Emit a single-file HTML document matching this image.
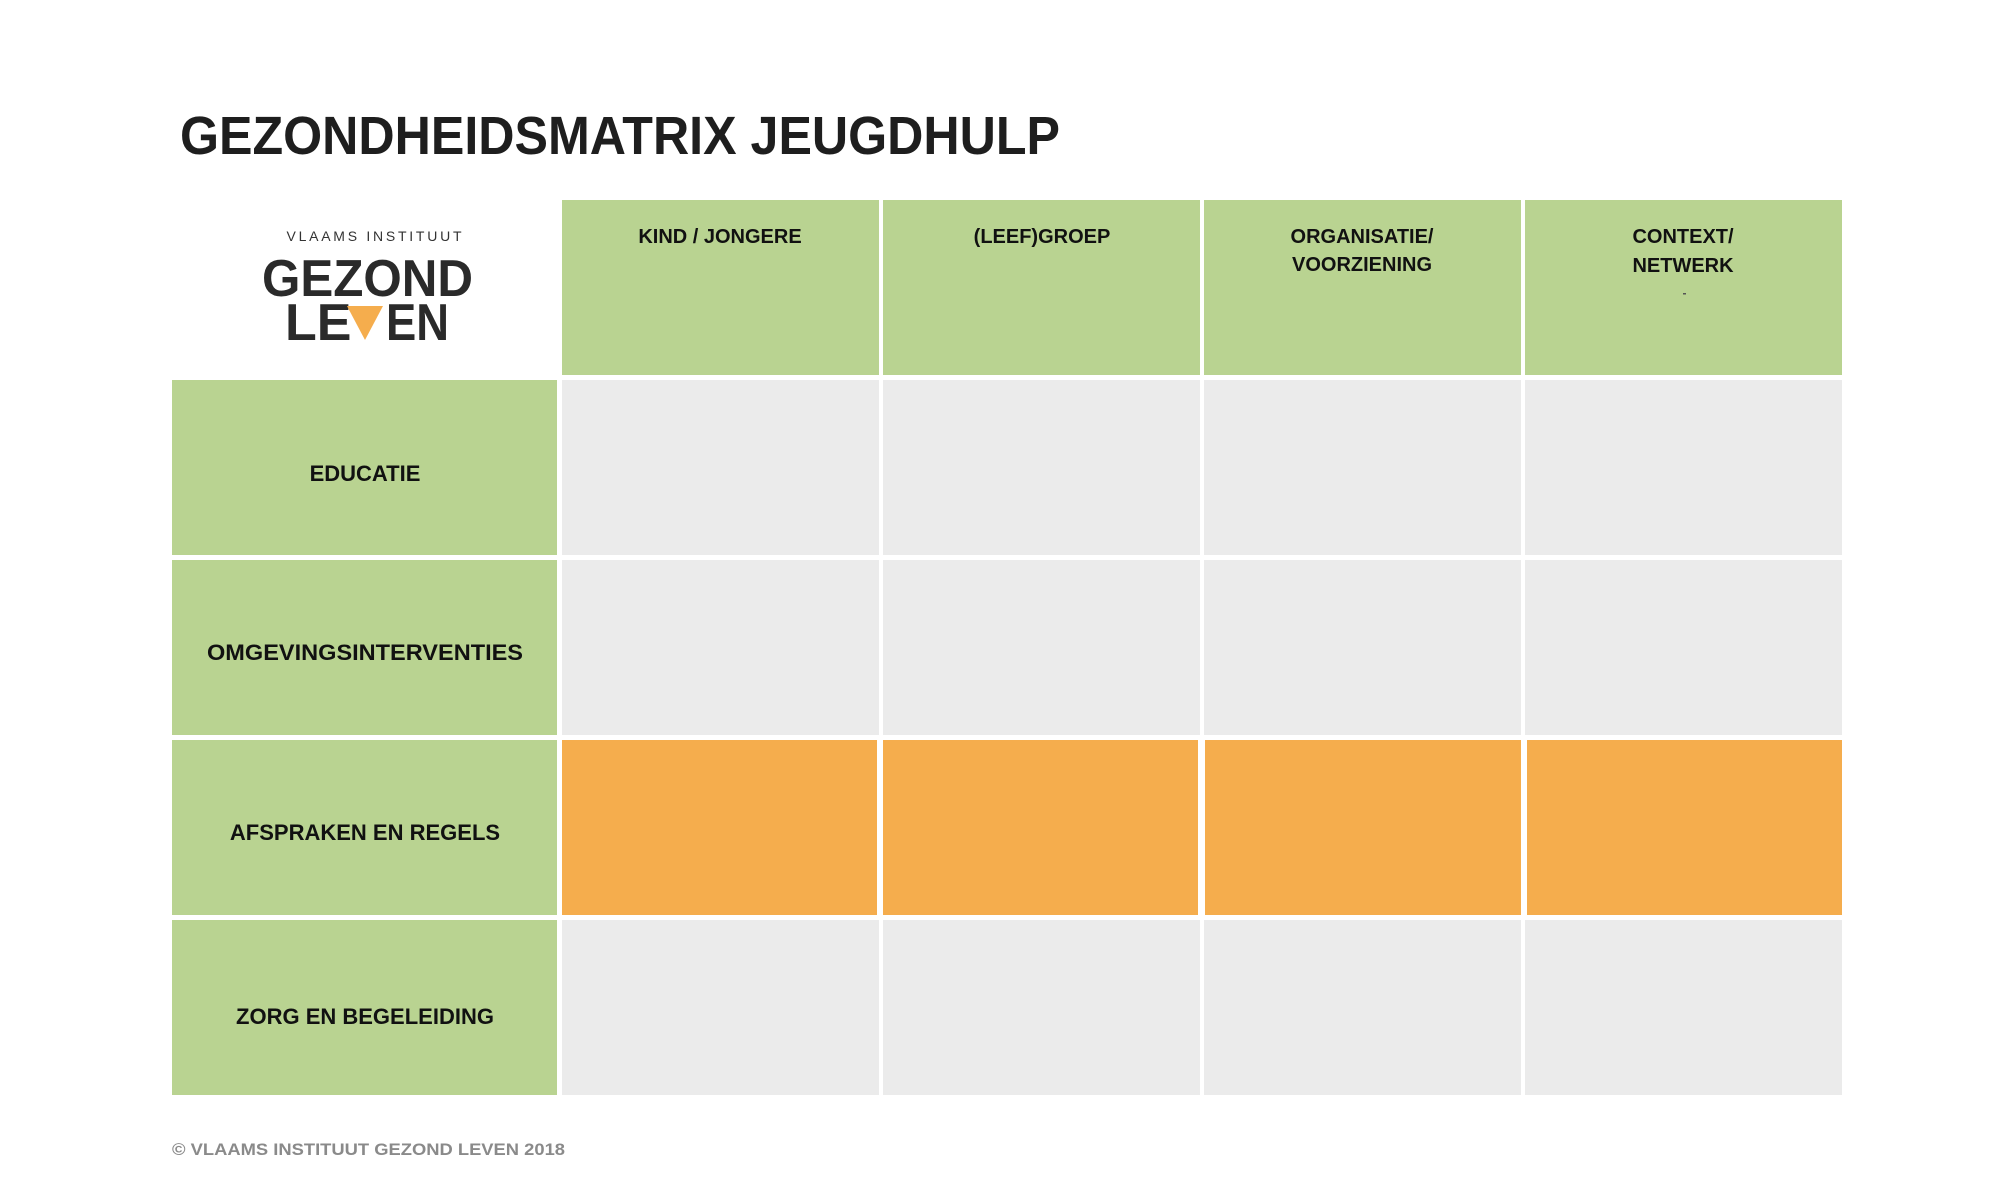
<!DOCTYPE html>
<html><head><meta charset="utf-8"><style>html,body{margin:0;padding:0;background:#fff}svg{display:block}</style></head>
<body>
<svg width="2000" height="1200" viewBox="0 0 2000 1200" xmlns="http://www.w3.org/2000/svg" font-family="Liberation Sans, sans-serif" font-weight="bold">
<rect width="2000" height="1200" fill="#fff"/>
<text x="180" y="154" font-size="54" fill="#1e1e1e" textLength="880" lengthAdjust="spacingAndGlyphs">GEZONDHEIDSMATRIX JEUGDHULP</text>
<!-- logo -->
<text x="374" y="241" font-size="14" font-weight="normal" fill="#333" text-anchor="middle" textLength="175" lengthAdjust="spacing">VLAAMS INSTITUUT</text>
<text x="262" y="296" font-size="52" fill="#2a2a2a" textLength="211" lengthAdjust="spacingAndGlyphs">GEZOND</text>
<text x="285" y="340" font-size="52" fill="#2a2a2a">LE</text>
<polygon points="347,306 383,306 365,340" fill="#f5ad4d"/>
<text x="386" y="340" font-size="52" fill="#2a2a2a" textLength="63" lengthAdjust="spacingAndGlyphs">EN</text>
<!-- header -->
<g fill="#b9d391">
<rect x="562" y="200" width="317" height="175"/>
<rect x="883" y="200" width="317" height="175"/>
<rect x="1204" y="200" width="317" height="175"/>
<rect x="1525" y="200" width="317" height="175"/>
<rect x="172" y="380" width="385" height="175"/>
<rect x="172" y="560" width="385" height="175"/>
<rect x="172" y="740" width="385" height="175"/>
<rect x="172" y="920" width="385" height="175"/>
</g>
<g fill="#ebebeb">
<rect x="562" y="380" width="317" height="175"/><rect x="883" y="380" width="317" height="175"/><rect x="1204" y="380" width="317" height="175"/><rect x="1525" y="380" width="317" height="175"/>
<rect x="562" y="560" width="317" height="175"/><rect x="883" y="560" width="317" height="175"/><rect x="1204" y="560" width="317" height="175"/><rect x="1525" y="560" width="317" height="175"/>
<rect x="562" y="920" width="317" height="175"/><rect x="883" y="920" width="317" height="175"/><rect x="1204" y="920" width="317" height="175"/><rect x="1525" y="920" width="317" height="175"/>
</g>
<g fill="#f5ad4d">
<rect x="562" y="740" width="315" height="175"/><rect x="883" y="740" width="315" height="175"/><rect x="1205" y="740" width="316" height="175"/><rect x="1527" y="740" width="315" height="175"/>
</g>
<g font-size="20" fill="#111" text-anchor="middle">
<text x="720" y="243">KIND / JONGERE</text>
<text x="1042" y="243">(LEEF)GROEP</text>
<text x="1362" y="243">ORGANISATIE/</text>
<text x="1362" y="271">VOORZIENING</text>
<text x="1683" y="243">CONTEXT/</text>
<text x="1683" y="272">NETWERK</text>
</g>
<rect x="1683" y="293" width="3" height="1.5" fill="#555"/>
<g font-size="22" fill="#111" text-anchor="middle">
<text x="365" y="481">EDUCATIE</text>
<text x="365" y="660" textLength="316" lengthAdjust="spacingAndGlyphs">OMGEVINGSINTERVENTIES</text>
<text x="365" y="840">AFSPRAKEN EN REGELS</text>
<text x="365" y="1024">ZORG EN BEGELEIDING</text>
</g>
<text x="172" y="1155" font-size="17" fill="#8a8a8a" textLength="393" lengthAdjust="spacingAndGlyphs">© VLAAMS INSTITUUT GEZOND LEVEN 2018</text>
</svg>
</body></html>
